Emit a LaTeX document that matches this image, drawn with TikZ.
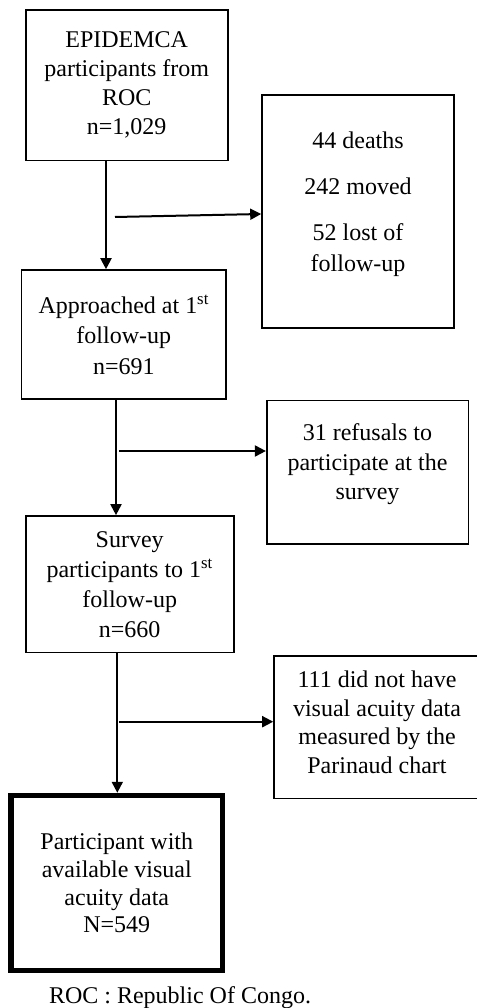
\documentclass[tikz,border=0pt]{standalone}
\usepackage{fontspec}
\setmainfont{Liberation Serif}
\usetikzlibrary{arrows.meta}
\tikzset{
  box/.style={draw, line width=1.6pt, inner sep=0pt, align=center, font=\fontsize{24}{29}\selectfont},
  thickbox/.style={box, line width=5.5pt},
  txt/.style={inner sep=0pt, align=center, font=\fontsize{24}{29}\selectfont},
  arr/.style={line width=2pt, -{Triangle[length=11pt,width=11pt]}}
}
\begin{document}
\begin{tikzpicture}[x=1pt,y=-1pt]
\useasboundingbox[fill=white] (0,0) rectangle (476,1008);
% main column
\node[box, minimum width=202pt, minimum height=150.7pt] (b1) at (126.7,85.3)
  {EPIDEMCA\\participants from\\ROC\\n=1,029};
\node[box, minimum width=204.3pt, minimum height=129pt, font=\fontsize{24}{30.5}\selectfont] (b3) at (123.8,334.5)
  {Approached at 1\textsuperscript{st}\\follow-up\\n=691};
\node[box, minimum width=208pt, minimum height=136.7pt, font=\fontsize{24}{30}\selectfont] (b5) at (129.7,584.3)
  {Survey\\participants to 1\textsuperscript{st}\\follow-up\\n=660};
\node[thickbox, minimum width=211.5pt, minimum height=175pt, font=\fontsize{24}{27.7}\selectfont] (b7) at (116.8,883)
  {Participant with\\available visual\\acuity data\\N=549};
% side boxes
\node[box, minimum width=192pt, minimum height=233pt] (b2) at (358,211.5) {};
\node[txt, font=\fontsize{24}{31}\selectfont] (b2t) at (358,204) {44 deaths\\[15pt]242 moved\\[15pt]52 lost of\\follow-up};
\node[box, minimum width=201.6pt, minimum height=143.3pt] (b4) at (367.5,472.3) {};
\node[txt, font=\fontsize{24}{29.5}\selectfont] (b4t) at (367.5,464.5) {31 refusals to\\participate at the\\survey};
\node[box, minimum width=206pt, minimum height=142.6pt] (b6) at (377,727) {};
\node[txt, font=\fontsize{24}{28.5}\selectfont] (b6t) at (377,722.5) {111 did not have\\visual acuity data\\measured by the\\Parinaud chart};
% caption
\node[txt, anchor=base] (cap) at (180,1003) {ROC : Republic Of Congo.};
% vertical arrows
\coordinate (v1) at (106,0);
\coordinate (v2) at (116,0);
\coordinate (v3) at (117.3,0);
\draw[arr] (b1.south -| v1) -- (b3.north -| v1);
\draw[arr] (b3.south -| v2) -- (b5.north -| v2);
\draw[arr] (b5.south -| v3) -- (b7.north -| v3);
% horizontal arrows
\coordinate (h1) at (115,217);
\coordinate (h1e) at (0,214);
\coordinate (h2) at (119,451);
\coordinate (h3) at (119,721.7);
\draw[arr] (h1) -- (b2.west |- h1e);
\draw[arr] (h2) -- (b4.west |- h2);
\draw[arr] (h3) -- (b6.west |- h3);
\end{tikzpicture}
\end{document}
